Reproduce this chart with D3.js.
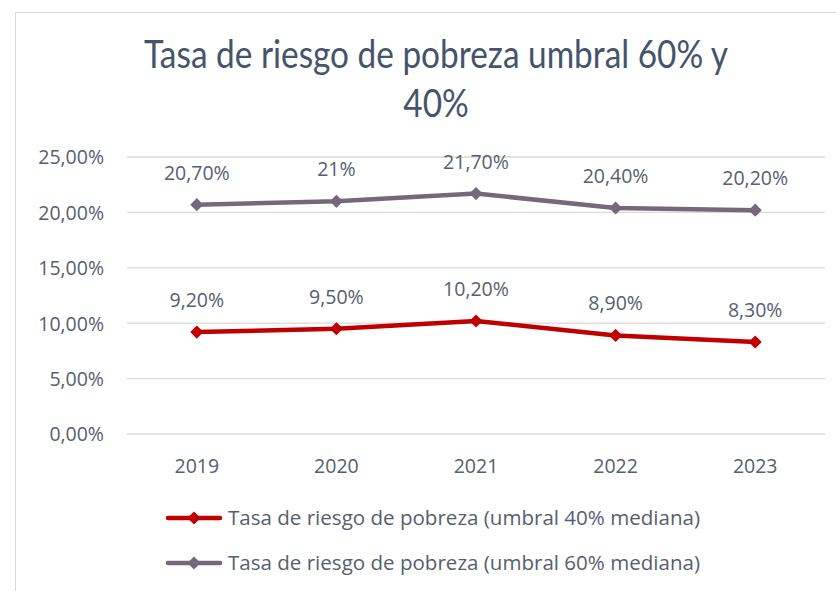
<!DOCTYPE html>
<html><head><meta charset="utf-8">
<script src="https://cdn.jsdelivr.net/npm/d3@7"></script>
<style>body{margin:0;background:#fff}svg{display:block}</style>
</head><body>
<script>
const years = ["2019","2020","2021","2022","2023"];
const s40 = [9.2, 9.5, 10.2, 8.9, 8.3];
const s60 = [20.7, 21.0, 21.7, 20.4, 20.2];
const labels40 = ["9,20%","9,50%","10,20%","8,90%","8,30%"];
const labels60 = ["20,70%","21%","21,70%","20,40%","20,20%"];
const yTicks = [0,5,10,15,20,25];
const seriesNames = ["Tasa de riesgo de pobreza (umbral 40% mediana)","Tasa de riesgo de pobreza (umbral 60% mediana)"];
const colors = ["#C00000","#76687A"];

const W=836,H=591;
const svg=d3.select("body").append("svg").attr("width",W).attr("height",H);
const font="'Open Sans', sans-serif";
const tfont="Lato, 'Open Sans', sans-serif";
const txt="#44546A";
const lbl="#55606F";
function fit(sel,target){const n=sel.node();const l=n.getComputedTextLength();const fs=+sel.attr("font-size");sel.attr("font-size",(fs*target/l).toFixed(2));}

svg.append("rect").attr("x",15.5).attr("y",12.5).attr("width",W).attr("height",H).attr("fill","#fff").attr("stroke","#D9D9D9");

const tg=svg.append("g").attr("transform","translate(436,0) scale(1,1.13)");
const t1=tg.append("text").attr("x",0).attr("y",68/1.13).attr("text-anchor","middle").attr("font-family",tfont).attr("font-size",31).attr("font-weight",400).attr("fill",txt).text("Tasa de riesgo de pobreza umbral 60% y");
fit(t1,584);
const tfs=t1.attr("font-size");
tg.append("text").attr("x",0).attr("y",117/1.13).attr("text-anchor","middle").attr("font-family",tfont).attr("font-size",tfs).attr("font-weight",400).attr("fill",txt).text("40%");

const x=d3.scaleBand().domain(years).range([127,825]);
const y=d3.scaleLinear().domain([0,25]).range([434,157]);

const grid=svg.append("g");
grid.selectAll("line").data(yTicks).join("line").attr("x1",127).attr("x2",825).attr("y1",d=>y(d)).attr("y2",d=>y(d)).attr("stroke","#D9D9D9").attr("stroke-width",1.3);

const fs=19.5;
const yAxis=d3.axisLeft(y).tickValues(yTicks).tickSize(0).tickPadding(0).tickFormat(d=>d3.format(".2f")(d).replace(".",",")+"%");
const ya=svg.append("g").attr("transform","translate(104,0)").call(yAxis);
ya.select(".domain").remove();
ya.selectAll("text").attr("font-family",font).attr("font-size",fs).attr("fill",lbl).attr("dy","0.35em");

const xAxis=d3.axisBottom(x).tickSize(0).tickPadding(0);
const xa=svg.append("g").attr("transform","translate(0,473)").call(xAxis);
xa.select(".domain").remove();
xa.selectAll("text").attr("font-family",font).attr("font-size",fs).attr("fill",lbl).attr("y",0).attr("dy","0");

const cx=d=>x(d)+x.bandwidth()/2;
const line=d3.line().x((d,i)=>cx(years[i])).y(d=>y(d));
const diamond=d3.symbol().type(d3.symbolDiamond2).size(110);

[[s60,labels60,colors[1]],[s40,labels40,colors[0]]].forEach(([s,lab,c])=>{
  svg.append("path").datum(s).attr("d",line).attr("fill","none").attr("stroke",c).attr("stroke-width",4.5).attr("stroke-linejoin","round");
  svg.append("g").selectAll("path").data(s).join("path").attr("d",diamond).attr("transform",(d,i)=>`translate(${cx(years[i])},${y(d)})`).attr("fill",c);
  svg.append("g").selectAll("text").data(s).join("text").attr("x",(d,i)=>cx(years[i])).attr("y",d=>y(d)-25).attr("text-anchor","middle").attr("font-family",font).attr("font-size",fs).attr("fill",lbl).text((d,i)=>lab[i]);
});

const leg=svg.append("g");
seriesNames.forEach((n,i)=>{
  const ly=518+i*45;
  leg.append("line").attr("x1",168).attr("x2",220).attr("y1",ly).attr("y2",ly).attr("stroke",colors[i]).attr("stroke-width",4.5).attr("stroke-linecap","round");
  leg.append("path").attr("d",diamond).attr("transform",`translate(194,${ly})`).attr("fill",colors[i]);
  const t=leg.append("text").attr("x",228).attr("y",ly).attr("dy","0.35em").attr("font-family",font).attr("font-size",18).attr("fill",lbl).text(n);
  fit(t,472);
});
</script>
</body></html>
